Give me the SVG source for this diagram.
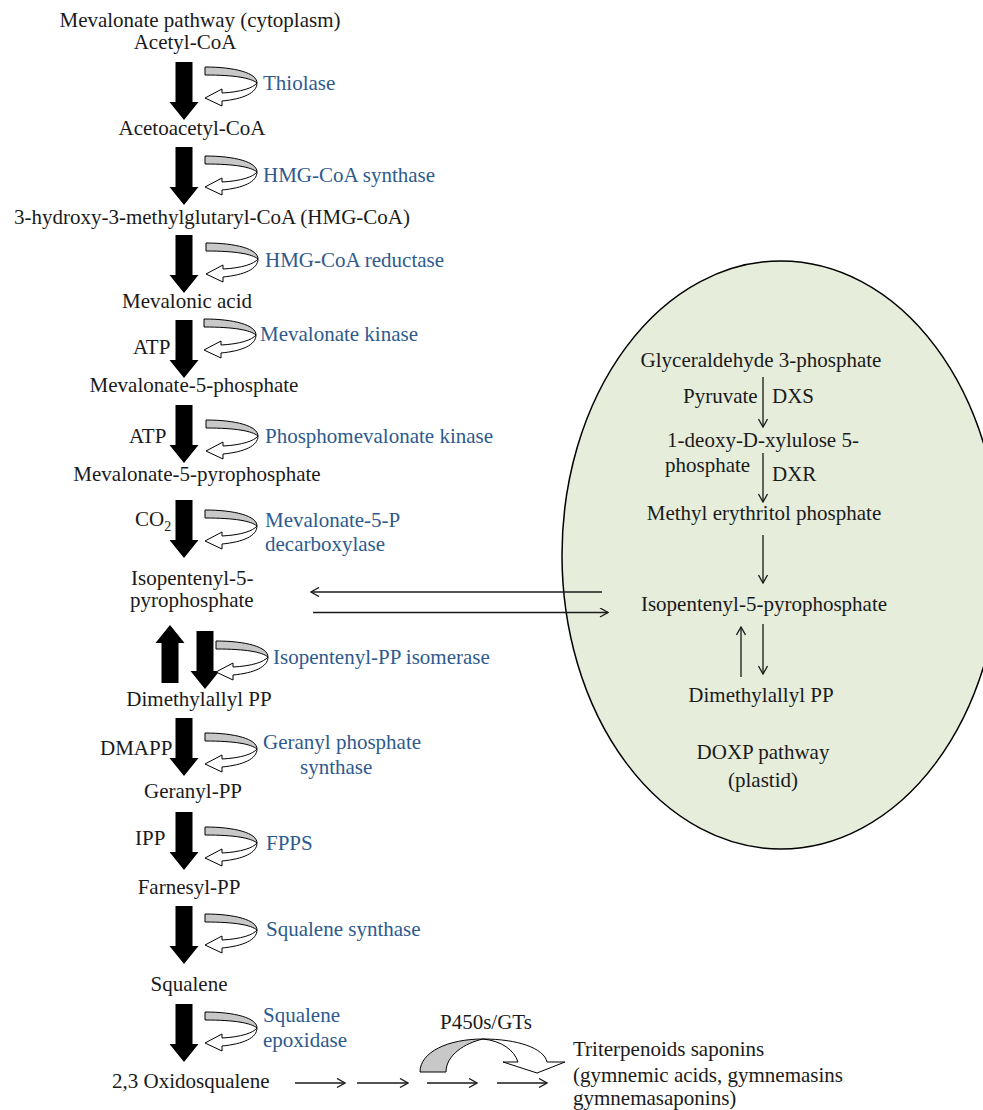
<svg xmlns="http://www.w3.org/2000/svg" width="983" height="1110" viewBox="0 0 983 1110" xmlns:xlink="http://www.w3.org/1999/xlink">
<style>
text{font-family:"Liberation Serif","Times New Roman",serif;font-size:21px;fill:#1a1a1a}
.m{text-anchor:middle}
.e{fill:#2e5a8e}
.thin{stroke:#1a1a1a;stroke-width:1.3;fill:none}
</style>
<defs>
<path id="blk" d="M-8.5,0 H8.5 V40 H14.5 L0,58 L-14.5,40 H-8.5 Z" fill="#000"/>
<g id="curl">
<path d="M0,0 C30,0 52,6 52,16 C46,11 30,8 0,8 Z" fill="#c8c8c8" stroke="#000" stroke-width="1"/>
<path d="M52,16 C52,26 38,32 17,34 L17,39 L0,31 L17,22 L17,26 C36,25 48,21 52,16 Z" fill="#fff" stroke="#000" stroke-width="1"/>
</g>
<marker id="ah" viewBox="0 0 10 10" refX="9" refY="5" markerWidth="10" markerHeight="10" markerUnits="userSpaceOnUse" orient="auto">
<path d="M1,0.5 L9,5 L1,9.5" fill="none" stroke="#1a1a1a" stroke-width="1.3"/>
</marker>
</defs>

<g id="plastid">
<ellipse cx="781" cy="555" rx="219" ry="294" fill="#e6eddb" stroke="#000" stroke-width="1.5"/>
</g>

<g id="connectors">
<use xlink:href="#blk" x="184" y="62"/>
<use xlink:href="#blk" x="184" y="147"/>
<use xlink:href="#blk" x="184" y="235"/>
<use xlink:href="#blk" x="184" y="320"/>
<use xlink:href="#blk" x="184" y="405"/>
<use xlink:href="#blk" x="184" y="500"/>
<use xlink:href="#blk" x="170" y="627" transform="rotate(180 170 655)"/>
<use xlink:href="#blk" x="205" y="631"/>
<use xlink:href="#blk" x="184" y="718"/>
<use xlink:href="#blk" x="184" y="812"/>
<use xlink:href="#blk" x="184" y="906"/>
<use xlink:href="#blk" x="184" y="1004"/>

<use xlink:href="#curl" x="205" y="67"/>
<use xlink:href="#curl" x="205" y="156"/>
<use xlink:href="#curl" x="206" y="243"/>
<use xlink:href="#curl" x="204" y="319"/>
<use xlink:href="#curl" x="206" y="420"/>
<use xlink:href="#curl" x="205" y="510"/>
<use xlink:href="#curl" x="216" y="641"/>
<use xlink:href="#curl" x="205" y="733"/>
<use xlink:href="#curl" x="205" y="827"/>
<use xlink:href="#curl" x="205" y="914"/>
<use xlink:href="#curl" x="205" y="1012"/>

<line class="thin" x1="602" y1="592" x2="311" y2="592" marker-end="url(#ah)"/>
<line class="thin" x1="313" y1="612.5" x2="608" y2="612.5" stroke-width="1.8" marker-end="url(#ah)"/>

<line class="thin" x1="763" y1="377" x2="763" y2="427" marker-end="url(#ah)"/>
<line class="thin" x1="763" y1="453" x2="763" y2="502" marker-end="url(#ah)"/>
<line class="thin" x1="763" y1="535" x2="763" y2="583" marker-end="url(#ah)"/>
<line class="thin" x1="741" y1="677" x2="741" y2="627" marker-end="url(#ah)"/>
<line class="thin" x1="763" y1="624" x2="763" y2="674" marker-end="url(#ah)"/>

<line class="thin" x1="295" y1="1083" x2="345" y2="1083" marker-end="url(#ah)"/>
<line class="thin" x1="357" y1="1083" x2="408" y2="1083" marker-end="url(#ah)"/>
<line class="thin" x1="427" y1="1083" x2="477" y2="1083" marker-end="url(#ah)"/>
<line class="thin" x1="497" y1="1083" x2="547" y2="1083" marker-end="url(#ah)"/>

<path d="M420,1072 C420,1052 448,1039 483,1039 C465,1043 446,1055 446,1072 Z" fill="#c8c8c8" stroke="#000" stroke-width="1"/>
<path d="M483,1039 C517,1039 544,1048 547,1062 L565,1062 L537,1073 L503,1062 L518,1062 C514,1050 502,1041 483,1039 Z" fill="#fff" stroke="#000" stroke-width="1"/>
</g>

<g id="n-title"><text class="m" x="200" y="27">Mevalonate pathway (cytoplasm)</text></g>
<g id="n-acetylcoa"><text class="m" x="185" y="49">Acetyl-CoA</text></g>
<g id="e-thiolase"><text class="e" x="263" y="90">Thiolase</text></g>
<g id="n-acetoacetyl"><text class="m" x="192" y="135">Acetoacetyl-CoA</text></g>
<g id="e-hmgs"><text class="e" x="263" y="182">HMG-CoA synthase</text></g>
<g id="n-hmgcoa"><text class="m" x="212" y="224">3-hydroxy-3-methylglutaryl-CoA (HMG-CoA)</text></g>
<g id="e-hmgr"><text class="e" x="265" y="267">HMG-CoA reductase</text></g>
<g id="n-mva"><text class="m" x="187" y="308">Mevalonic acid</text></g>
<g id="c-atp1"><text x="133" y="354">ATP</text></g>
<g id="e-mk"><text class="e" x="260" y="341">Mevalonate kinase</text></g>
<g id="n-mvp"><text class="m" x="194" y="392">Mevalonate-5-phosphate</text></g>
<g id="c-atp2"><text x="129" y="443">ATP</text></g>
<g id="e-pmk"><text class="e" x="265" y="443">Phosphomevalonate kinase</text></g>
<g id="n-mvpp"><text class="m" x="197" y="481">Mevalonate-5-pyrophosphate</text></g>
<g id="c-co2"><text x="135" y="526">CO<tspan dy="5" font-size="14">2</tspan></text></g>
<g id="e-mdc"><text class="e" x="265" y="527">Mevalonate-5-P</text><text class="e" x="265" y="551">decarboxylase</text></g>
<g id="n-ipp"><text x="131" y="585">Isopentenyl-5-</text><text x="130" y="607">pyrophosphate</text></g>
<g id="e-idi"><text class="e" x="273" y="664">Isopentenyl-PP isomerase</text></g>
<g id="n-dmapp"><text class="m" x="199" y="706">Dimethylallyl PP</text></g>
<g id="c-dmapp"><text x="100" y="755">DMAPP</text></g>
<g id="e-gps"><text class="e" x="263" y="749">Geranyl phosphate</text><text class="e" x="300" y="774">synthase</text></g>
<g id="n-gpp"><text class="m" x="193" y="798">Geranyl-PP</text></g>
<g id="c-ipp"><text x="135" y="845">IPP</text></g>
<g id="e-fpps"><text class="e" x="266" y="850">FPPS</text></g>
<g id="n-fpp"><text class="m" x="189" y="894">Farnesyl-PP</text></g>
<g id="e-sqs"><text class="e" x="266" y="936">Squalene synthase</text></g>
<g id="n-squalene"><text class="m" x="189" y="991">Squalene</text></g>
<g id="e-sqe"><text class="e" x="263" y="1022">Squalene</text><text class="e" x="263" y="1047">epoxidase</text></g>
<g id="n-oxido"><text x="112" y="1088">2,3 Oxidosqualene</text></g>
<g id="c-p450"><text x="440" y="1029">P450s/GTs</text></g>
<g id="n-triterp"><text x="573" y="1056">Triterpenoids saponins</text><text x="573" y="1082">(gymnemic acids, gymnemasins</text><text x="573" y="1105">gymnemasaponins)</text></g>

<g id="n-g3p"><text class="m" x="761" y="367">Glyceraldehyde 3-phosphate</text></g>
<g id="c-pyr"><text x="683" y="403">Pyruvate</text><text x="772" y="403">DXS</text></g>
<g id="n-dxp"><text class="m" x="763" y="447">1-deoxy-D-xylulose 5-</text><text x="665" y="472">phosphate</text></g>
<g id="c-dxr"><text x="772" y="481">DXR</text></g>
<g id="n-mep"><text class="m" x="764" y="520">Methyl erythritol phosphate</text></g>
<g id="n-ipp2"><text class="m" x="764" y="611">Isopentenyl-5-pyrophosphate</text></g>
<g id="n-dmapp2"><text class="m" x="761" y="702">Dimethylallyl PP</text></g>
<g id="n-doxp"><text class="m" x="763" y="759">DOXP pathway</text><text class="m" x="763" y="787">(plastid)</text></g>
</svg>
